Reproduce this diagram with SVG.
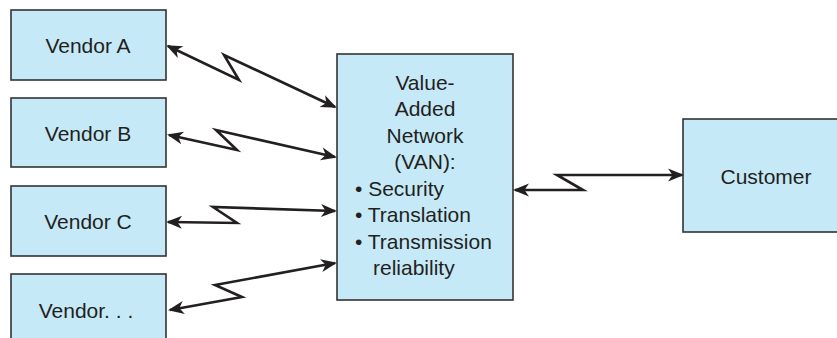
<svg xmlns="http://www.w3.org/2000/svg" width="837" height="338" viewBox="0 0 837 338">
<style>
.box{fill:#c6e9f8;stroke:#333;stroke-width:1.6}
.lbl{font-family:"Liberation Sans",Arial,sans-serif;font-size:21px;fill:#231f20}
.c{text-anchor:middle}
.link{fill:none;stroke:#231f20;stroke-width:2.6;stroke-linejoin:miter;marker-start:url(#ah);marker-end:url(#ah)}
</style>
<defs>
<marker id="ah" markerUnits="userSpaceOnUse" viewBox="-16 -8 20 16" refX="0" refY="0" markerWidth="20" markerHeight="16" orient="auto-start-reverse">
<path d="M2,0 L-14,-6.5 L-9.5,0 L-14,6.5 Z" fill="#231f20"/>
</marker>
</defs>
<rect width="837" height="338" fill="#fff"/>
<g id="vendorA"><rect class="box" x="11" y="10" width="155" height="70"/><text class="lbl c" x="88" y="52.5">Vendor A</text></g>
<g id="vendorB"><rect class="box" x="11" y="98" width="155" height="69"/><text class="lbl c" x="88" y="140.5">Vendor B</text></g>
<g id="vendorC"><rect class="box" x="11" y="186" width="155" height="70"/><text class="lbl c" x="88" y="228.5">Vendor C</text></g>
<g id="vendorEtc"><rect class="box" x="11" y="274" width="155" height="80"/><text class="lbl c" x="86" y="317.5">Vendor. . .</text></g>
<g id="van"><rect class="box" x="337" y="54" width="176" height="246"/>
<text class="lbl c" x="425" y="89.5">Value-</text>
<text class="lbl c" x="425" y="116">Added</text>
<text class="lbl c" x="425" y="142.5">Network</text>
<text class="lbl c" x="425" y="169">(VAN):</text>
<text class="lbl" x="355" y="195.5">• Security</text>
<text class="lbl" x="355" y="222">• Translation</text>
<text class="lbl" x="355" y="248.5">• Transmission</text>
<text class="lbl" x="373" y="275">reliability</text>
</g>
<g id="customer"><rect class="box" x="683" y="119" width="170" height="113"/><text class="lbl c" x="766" y="183.5">Customer</text></g>
<g id="connectors">
<path class="link" d="M168,46 L239,80 L224,55 L335,107"/>
<path class="link" d="M169,135 L237,150 L216,130 L335,157"/>
<path class="link" d="M168,222 L237,223 L213,207 L335,211"/>
<path class="link" d="M170,310 L242,297 L215,285 L335,263"/>
<path class="link" d="M515,190 L583,190 L557,175 L682,175"/>
</g>
</svg>
